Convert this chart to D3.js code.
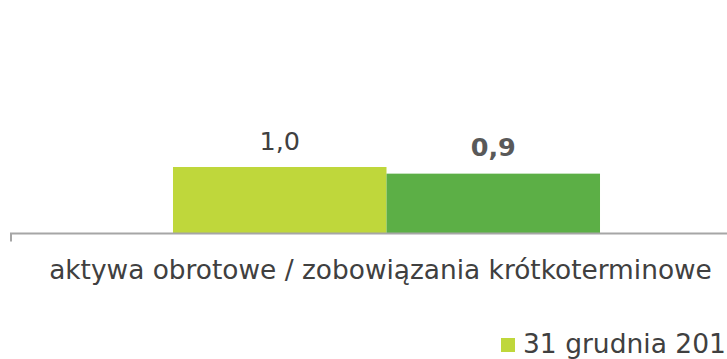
<!DOCTYPE html>
<html>
<head>
<meta charset="utf-8">
<script src="https://cdn.jsdelivr.net/npm/d3@7/dist/d3.min.js"></script>
<style>
  html, body { margin: 0; padding: 0; background: #ffffff; }
  svg { display: block; }
  text { font-family: Verdana, "DejaVu Sans", sans-serif; }
</style>
</head>
<body>
<div id="chart"></div>
<script>
// Current ratio: current assets / current liabilities
const categories = ["aktywa obrotowe / zobowiązania krótkoterminowe"];
const seriesNames = ["31 grudnia 2012", "31 grudnia 2013"];
const seriesColors = ["#bfd73b", "#5caf46"];
const values2012 = [1.0];
const values2013 = [0.9];
const valueLabelBold = [false, true];

const width = 727, height = 359;
const baseline = 233.5;

const svg = d3.select("#chart").append("svg")
  .attr("width", width)
  .attr("height", height);

const x = d3.scaleBand()
  .domain(categories)
  .range([10, 763])
  .paddingInner(0)
  .paddingOuter(0.3817);

const xInner = d3.scaleBand()
  .domain(seriesNames)
  .range([0, x.bandwidth()])
  .padding(0);

const y = d3.scaleLinear()
  .domain([0, 2.5])
  .range([baseline, baseline - 2.5 * 66.5]);

const rows = categories.map((c, i) => ({
  category: c,
  values: [values2012[i], values2013[i]]
}));

const fmt = v => d3.format(".1f")(v).replace(".", ",");

const groups = svg.selectAll("g.cat")
  .data(rows)
  .join("g")
  .attr("class", "cat")
  .attr("transform", d => `translate(${x(d.category)},0)`);

groups.selectAll("rect")
  .data(d => d.values.map((v, k) => ({ v, k })))
  .join("rect")
  .attr("x", d => xInner(seriesNames[d.k]))
  .attr("y", d => y(d.v))
  .attr("width", xInner.bandwidth())
  .attr("height", d => y(0) - y(d.v))
  .attr("fill", d => seriesColors[d.k]);

groups.selectAll("text.val")
  .data(d => d.values.map((v, k) => ({ v, k })))
  .join("text")
  .attr("class", "val")
  .attr("x", d => xInner(seriesNames[d.k]) + xInner.bandwidth() / 2)
  .attr("y", d => y(d.v) - 17.5)
  .attr("text-anchor", "middle")
  .attr("font-size", 25.5)
  .attr("font-weight", d => valueLabelBold[d.k] ? "bold" : "normal")
  .attr("fill", d => valueLabelBold[d.k] ? "#595959" : "#404040")
  .text(d => fmt(d.v));

// Category axis
const axis = svg.append("g")
  .attr("transform", `translate(0,${baseline})`)
  .call(d3.axisBottom(x).tickSize(0).tickFormat(""));
axis.select(".domain").remove();
axis.append("line")
  .attr("x1", 10).attr("x2", 763)
  .attr("y1", 0).attr("y2", 0)
  .attr("stroke", "#a6a6a6")
  .attr("stroke-width", 2);
axis.append("line")
  .attr("x1", 11).attr("x2", 11)
  .attr("y1", 0).attr("y2", 8)
  .attr("stroke", "#a6a6a6")
  .attr("stroke-width", 2);

svg.selectAll("text.cat-label")
  .data(categories)
  .join("text")
  .attr("class", "cat-label")
  .attr("x", d => x(d) + x.bandwidth() / 2 - 6)
  .attr("y", 279)
  .attr("text-anchor", "middle")
  .attr("font-size", 26.4)
  .attr("fill", "#404040")
  .text(d => d);

// Legend (the row continues past the right edge of the view)
const legend = svg.append("g").attr("transform", "translate(501,338)");
const items = legend.selectAll("g")
  .data(seriesNames)
  .join("g")
  .attr("transform", (d, i) => `translate(${i * 250},0)`);
items.append("rect")
  .attr("width", 14).attr("height", 14)
  .attr("fill", (d, i) => seriesColors[i]);
items.append("text")
  .attr("x", 22)
  .attr("y", 15)
  .attr("font-size", 26.5)
  .attr("fill", "#404040")
  .text(d => d);
</script>
</body>
</html>
